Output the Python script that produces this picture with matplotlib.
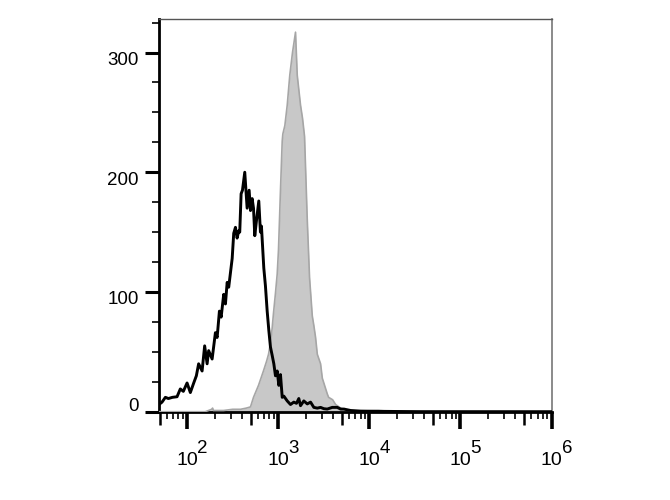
import matplotlib
matplotlib.use("Agg")
import matplotlib.pyplot as plt
from matplotlib.ticker import FixedLocator, NullLocator, MultipleLocator
import numpy as np

plt.rcParams['font.family'] = ['Liberation Sans', 'DejaVu Sans']

# stained sample (grey filled histogram): log10 intensity -> count
gray_log = [1.69, 2.20, 2.27, 2.28, 2.29, 2.40, 2.50, 2.586, 2.65, 2.696,
            2.729, 2.784, 2.838, 2.872, 2.894, 2.916, 2.934, 2.948, 2.970, 2.989,
            3.003, 3.014, 3.025, 3.044, 3.051, 3.073, 3.099, 3.127, 3.157, 3.190,
            3.209, 3.245, 3.267, 3.289, 3.319, 3.344, 3.374, 3.391, 3.410, 3.429,
            3.465, 3.484, 3.538, 3.553, 3.597, 3.630, 3.685, 3.740, 3.795, 3.90,
            4.10, 4.25, 4.40, 6.0]
gray_count = [0, 0, 2, 3, 1, 1, 2, 2, 3, 4,
              12, 22, 34, 42, 48, 58, 70, 82, 99, 115,
              135, 160, 185, 226, 232, 239, 256, 281, 300, 317,
              281, 256, 245, 230, 160, 112, 80, 72, 62, 48,
              40, 28, 15, 12, 10, 6, 3, 1.5, 1, 0.5,
              1, 0.3, 0.5, 0]

# isotype control (black line): log10 intensity -> count
ctrl_log = [1.692, 1.725, 1.762, 1.795, 1.839, 1.890, 1.926, 1.959, 2.000, 2.036,
            2.073, 2.102, 2.127, 2.165, 2.193, 2.220, 2.237, 2.275, 2.311, 2.330,
            2.355, 2.374, 2.402, 2.421, 2.440, 2.457, 2.495, 2.512, 2.531, 2.549,
            2.567, 2.578, 2.593, 2.608, 2.633, 2.659, 2.681, 2.696, 2.714, 2.729,
            2.743, 2.762, 2.787, 2.805, 2.816, 2.842, 2.860, 2.879, 2.897, 2.915,
            2.934, 2.952, 2.970, 2.989, 3.007, 3.025, 3.044, 3.062, 3.099, 3.135,
            3.171, 3.201, 3.226, 3.245, 3.281, 3.319, 3.355, 3.391, 3.429, 3.465,
            3.501, 3.538, 3.593, 3.648, 3.685, 3.721, 3.795, 3.904, 4.124, 4.564,
            6.0]
ctrl_count = [6, 8, 12, 11, 12, 12.5, 19, 17, 24, 16,
              24, 30, 40, 34, 55, 40, 51, 44, 66, 62,
              84, 79, 98, 90, 108, 104, 128, 149, 154, 145,
              151, 150, 182, 185, 200, 170, 185, 168, 178, 170,
              147, 160, 176, 150, 155, 120, 105, 84, 68, 54,
              47, 40, 30, 34, 22, 31, 12, 13, 9, 6,
              8, 7, 11, 5, 9, 6.5, 8, 3.6, 3, 3.6,
              2.5, 2.2, 3.6, 3.6, 2.2, 2.2, 1, 0.5, 0.3, 0,
              0]

x_decades = [2, 3, 4, 5, 6]
y_ticks = [0, 100, 200, 300]
y_label_shift = [5, -8, -8, -8]   # pixels, as placed in the original

fig = plt.figure(figsize=(6.7, 5), dpi=100)
ax = fig.add_axes([0.2373, 0.1766, 0.5866, 0.7854])

gx = 10 ** np.array(gray_log)
cx = 10 ** np.array(ctrl_log)
ax.fill_between(gx, 0, gray_count, color='#c8c8c8', lw=0, zorder=2)
ax.plot(gx, gray_count, color='#a6a6a6', lw=1.2, zorder=3)
ax.plot(cx, ctrl_count, color='black', lw=2.1, zorder=4)

ax.set_xscale('log')
ax.set_xlim(49.2, 1.01e6)
ax.set_ylim(0, 328)

# x ticks: decades, 2..9 minors, longer ticks at 5
ax.xaxis.set_major_locator(FixedLocator([10.0 ** k for k in x_decades]))
minors = [m * 10.0 ** k for k in range(1, 6) for m in (2, 3, 4, 6, 7, 8, 9)]
ax.xaxis.set_minor_locator(FixedLocator(minors))
ax.tick_params(axis='x', which='major', length=12, width=2.6, direction='out',
               labelbottom=False)
ax.tick_params(axis='x', which='minor', length=5, width=1.2, direction='out')

sec = ax.secondary_xaxis('bottom')
sec.set_xticks([5 * 10.0 ** k for k in range(1, 6)])
sec.xaxis.set_minor_locator(NullLocator())
sec.tick_params(axis='x', length=9, width=1.8, labelbottom=False)
sec.spines['bottom'].set_visible(False)

ax.yaxis.set_major_locator(FixedLocator(y_ticks))
ax.yaxis.set_minor_locator(MultipleLocator(25))
ax.tick_params(axis='y', which='major', length=10, width=2.2, direction='out',
               labelleft=False)
ax.tick_params(axis='y', which='minor', length=5, width=1.2, direction='out')

for s in ('left', 'bottom'):
    ax.spines[s].set_linewidth(2)
    ax.spines[s].set_color('black')
ax.spines['top'].set_linewidth(1)
ax.spines['top'].set_color('#555555')
ax.spines['right'].set_linewidth(1.2)
ax.spines['right'].set_color('#777777')

for k in x_decades:
    ax.annotate('10', xy=(10.0 ** k, 0), xycoords=('data', 'axes fraction'),
                xytext=(0, -53), textcoords='offset pixels',
                ha='center', va='baseline', fontsize=14)
    ax.annotate(str(k), xy=(10.0 ** k, 0), xycoords=('data', 'axes fraction'),
                xytext=(10, -41), textcoords='offset pixels',
                ha='left', va='baseline', fontsize=13.5)

for v, dy in zip(y_ticks, y_label_shift):
    ax.annotate(str(v), xy=(0, v), xycoords=('axes fraction', 'data'),
                xytext=(-20, dy), textcoords='offset pixels',
                ha='right', va='center', fontsize=13.5)

fig.savefig('out.png', dpi=100)
